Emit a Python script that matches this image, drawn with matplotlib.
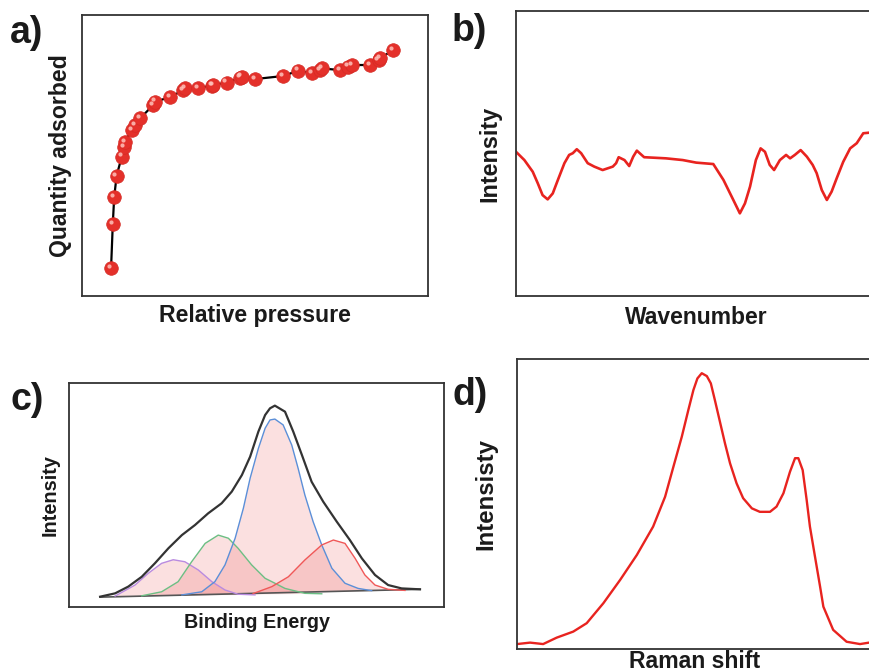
import matplotlib
matplotlib.use("Agg")
import matplotlib.pyplot as plt
from matplotlib.transforms import offset_copy

plt.rcParams['font.family'] = ['Liberation Sans', 'DejaVu Sans']

# ---------------- data ----------------
# a) adsorption isotherm
p_rel = [0.084, 0.089, 0.093, 0.100, 0.115, 0.121, 0.124, 0.144, 0.153, 0.168,
         0.206, 0.211, 0.254, 0.293, 0.298, 0.336, 0.375, 0.380, 0.418, 0.457,
         0.461, 0.500, 0.582, 0.625, 0.664, 0.688, 0.693, 0.746, 0.770, 0.780,
         0.833, 0.857, 0.861, 0.900]
q_ads = [0.099, 0.256, 0.351, 0.428, 0.496, 0.531, 0.549, 0.591, 0.609, 0.632,
         0.680, 0.692, 0.707, 0.733, 0.739, 0.739, 0.749, 0.751, 0.759, 0.777,
         0.781, 0.772, 0.783, 0.802, 0.792, 0.804, 0.810, 0.804, 0.816, 0.822,
         0.822, 0.840, 0.846, 0.875]

# b) IR spectrum
wn = [0.000, 0.023, 0.046, 0.060, 0.073, 0.087, 0.101, 0.115, 0.133, 0.146,
      0.156, 0.167, 0.179, 0.197, 0.215, 0.238, 0.266, 0.275, 0.282, 0.298,
      0.311, 0.322, 0.332, 0.352, 0.412, 0.458, 0.495, 0.542, 0.570, 0.597,
      0.615, 0.629, 0.643, 0.659, 0.672, 0.684, 0.697, 0.709, 0.725, 0.742,
      0.753, 0.766, 0.782, 0.799, 0.815, 0.826, 0.840, 0.854, 0.867, 0.881,
      0.899, 0.918, 0.936, 0.954, 0.970, 0.990]
ir = [0.506, 0.477, 0.436, 0.395, 0.354, 0.339, 0.360, 0.407, 0.466, 0.495,
      0.501, 0.515, 0.501, 0.466, 0.454, 0.442, 0.454, 0.466, 0.487, 0.477,
      0.456, 0.489, 0.510, 0.487, 0.483, 0.477, 0.468, 0.463, 0.407, 0.337,
      0.290, 0.325, 0.384, 0.477, 0.518, 0.506, 0.460, 0.442, 0.477, 0.495,
      0.483, 0.495, 0.512, 0.489, 0.460, 0.431, 0.372, 0.337, 0.366, 0.413,
      0.471, 0.518, 0.536, 0.571, 0.573, 0.573]

# c) XPS fit
env_x = [8.3, 12.3, 15.8, 19.4, 22.9, 26.5, 30.1, 33.6, 37.1, 40.7, 43.4, 46.1,
         48.3, 50.5, 52.3, 53.6, 54.9, 57.6, 59.8, 62.1, 64.7, 67.8, 71.4, 74.9,
         78.1, 81.6, 85.1, 88.7, 93.6]
env_y = [4.6, 6.1, 9.1, 13.5, 19.5, 26.2, 32.1, 36.6, 41.8, 46.3, 51.5, 58.9,
         67.1, 78.3, 85.7, 88.7, 89.9, 87.2, 78.3, 67.9, 55.9, 47.0, 38.1, 29.9,
         21.7, 14.3, 9.8, 8.3, 7.9]
base_x = [8.3, 93.6]
base_y = [4.4, 7.9]
pur_x = [12.3, 17.6, 21.1, 24.7, 27.8, 30.9, 34.5, 38.1, 41.6, 45.1, 49.6]
pur_y = [4.9, 9.8, 15.0, 19.5, 21.1, 20.2, 16.5, 11.3, 7.6, 5.7, 5.4]
grn_x = [19.4, 24.7, 29.1, 32.7, 36.3, 39.8, 42.5, 45.1, 48.7, 52.3, 54.1,
         57.6, 62.9, 67.4]
grn_y = [5.0, 6.8, 11.3, 20.2, 28.4, 32.1, 30.7, 26.2, 18.8, 12.8, 11.3,
         8.3, 6.1, 5.9]
blu_x = [30.1, 35.4, 38.9, 41.6, 44.3, 46.5, 48.3, 50.5, 52.3, 53.6, 54.9,
         57.1, 59.4, 61.1, 62.9, 65.1, 67.4, 70.1, 73.6, 77.1, 80.7]
blu_y = [5.4, 6.8, 11.3, 18.8, 30.7, 44.1, 57.5, 70.8, 79.8, 83.5, 83.9,
         81.3, 72.3, 61.9, 50.0, 38.1, 27.7, 17.3, 10.6, 8.3, 7.3]
red_x = [49.1, 54.1, 58.5, 62.9, 67.4, 70.5, 73.6, 76.3, 78.9, 81.6, 85.1, 89.6]
red_y = [6.0, 9.1, 13.5, 21.0, 27.7, 29.9, 28.4, 21.7, 14.3, 9.8, 7.9, 7.4]

# d) Raman spectrum
ram_x = [0.0, 3.6, 7.2, 10.9, 15.5, 19.2, 23.8, 28.4, 33.0, 37.5, 40.8, 43.1,
         45.4, 47.2, 48.6, 49.7, 50.9, 52.3, 53.4, 54.5, 55.9, 57.3, 58.7, 60.5,
         62.3, 64.7, 66.9, 69.7, 71.5, 73.4, 75.2, 76.6, 77.5, 78.7, 79.8, 80.7,
         82.1, 83.5, 84.4, 87.1, 90.8, 94.5, 97.0]
ram_y = [1.7, 2.2, 1.7, 3.9, 6.0, 8.9, 15.8, 23.8, 32.4, 42.2, 52.5, 62.9,
         73.2, 82.4, 89.3, 93.3, 95.1, 94.1, 91.6, 85.9, 78.4, 70.9, 64.0, 57.1,
         52.0, 48.5, 47.3, 47.3, 49.1, 53.7, 61.1, 65.8, 65.8, 61.7, 51.4, 42.2,
         31.8, 21.5, 14.6, 6.6, 2.5, 1.7, 2.2]

# ---------------- figure ----------------
W, H = 869, 672
fig = plt.figure(figsize=(W / 100, H / 100), dpi=100)


def make_ax(left, right, top, bottom):
    ax = fig.add_axes([left / W, 1 - bottom / H, (right - left) / W, (bottom - top) / H])
    ax.set_xticks([])
    ax.set_yticks([])
    for s in ax.spines.values():
        s.set_color('#333333')
        s.set_linewidth(1.3)
    return ax


spec_red = '#e8231f'
lab = dict(fontweight='bold', color='#1a1a1a')

# a)
axa = make_ax(82, 428, 15, 296)
axa.plot(p_rel, q_ads, color='black', lw=1.6, zorder=2)
axa.plot(p_rel, q_ads, 'o', ms=9.8, color='#e4302a', mec='#d42a24', mew=0.5, zorder=3)
hl = offset_copy(axa.transData, fig=fig, x=-1.6, y=1.6, units='points')
axa.plot(p_rel, q_ads, 'o', ms=3, color='#ffc2bb', mec='none', alpha=0.85,
         transform=hl, zorder=4)
axa.set_xlim(0, 1)
axa.set_ylim(0, 1)
axa.set_xlabel('Relative pressure', fontsize=16.7, labelpad=6, **lab)
axa.set_ylabel('Quantity adsorbed', fontsize=16.6, **lab)
axa.yaxis.set_label_coords(-10 / 346, 0.5)

# b)
axb = make_ax(516, 876, 11, 296)
axb.plot(wn, ir, color=spec_red, lw=1.9)
axb.set_xlim(0, 0.989)
axb.set_ylim(0, 1)
axb.set_xlabel('Wavenumber', fontsize=16.5, labelpad=7, **lab)
axb.set_ylabel('Intensity', fontsize=16.8, **lab)
axb.yaxis.set_label_coords(-15 / 360, 0.5)

# c)
axc = make_ax(69, 444, 383, 607)
fill_col = '#e84a4a'
for xs, ys, col in [(pur_x, pur_y, '#b98be0'), (grn_x, grn_y, '#6cbf84'),
                    (blu_x, blu_y, '#5b8fd8'), (red_x, red_y, '#f05858')]:
    axc.fill(xs, ys, color=fill_col, alpha=0.17, lw=0, zorder=1)
    axc.plot(xs, ys, color=col, lw=1.0, zorder=3)
axc.plot(base_x, base_y, color='#555555', lw=1.2, zorder=2)
axc.plot(env_x, env_y, color='#333333', lw=1.6, zorder=4)
axc.set_xlim(0, 100)
axc.set_ylim(0, 100)
axc.set_xlabel('Binding Energy', fontsize=14.2, labelpad=4, **lab)
axc.set_ylabel('Intensity', fontsize=14.3, **lab)
axc.yaxis.set_label_coords(-9 / 375, 0.5)

# d)
axd = make_ax(517, 872, 359, 649)
axd.plot(ram_x, ram_y, color=spec_red, lw=1.7)
axd.set_xlim(0, 97.8)
axd.set_ylim(0, 100)
axd.set_xlabel('Raman shift', fontsize=16.6, labelpad=0.5, **lab)
axd.set_ylabel('Intensisty', fontsize=17.3, **lab)
axd.yaxis.set_label_coords(-20 / 355, 0.536)

# panel letters
for txt, x, y in [('a)', 10, 15), ('b)', 452, 13), ('c)', 10, 382), ('d)', 453, 377)]:
    fig.text(x / W, 1 - y / H, txt, fontsize=27, fontweight='bold',
             ha='left', va='top', color='#1a1a1a')

fig.savefig('out.png', dpi=100)
